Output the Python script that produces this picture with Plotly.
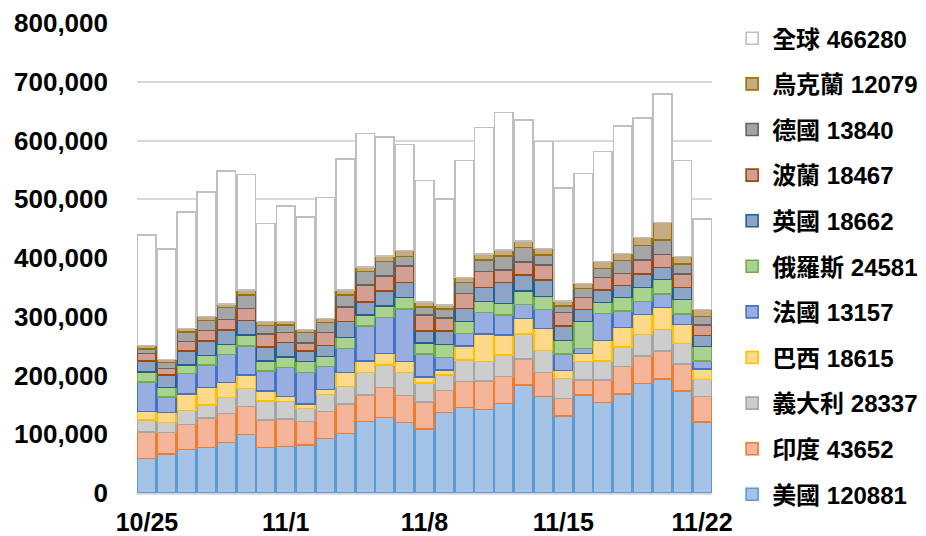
import plotly.graph_objects as go

# Daily dates (categories on the x axis)
dates = ["10/25", "10/26", "10/27", "10/28", "10/29", "10/30", "10/31",
         "11/1", "11/2", "11/3", "11/4", "11/5", "11/6", "11/7",
         "11/8", "11/9", "11/10", "11/11", "11/12", "11/13", "11/14",
         "11/15", "11/16", "11/17", "11/18", "11/19", "11/20", "11/21", "11/22"]
tick_dates = ["10/25", "11/1", "11/8", "11/15", "11/22"]

# Daily new cases per country
us = [58400, 66400, 74300, 77200, 86200, 99300, 77700, 78900, 81700, 92500,
      101600, 121400, 128800, 120300, 108900, 137300, 145800, 142400, 152600, 183800,
      164000, 131000, 166800, 153800, 168500, 186700, 194000, 173600, 120881]
india = [45000, 36900, 42600, 50000, 49400, 48200, 46500, 47100, 40300, 46000,
         49400, 45400, 50500, 45400, 46500, 36900, 43700, 48200, 45400, 44300,
         41400, 30100, 25500, 38500, 46500, 46500, 47700, 46000, 43652]
italy = [21000, 16500, 23300, 22700, 26700, 30600, 32300, 30000, 22100, 29500,
         30000, 38000, 38600, 39700, 32300, 26700, 36900, 33000, 36900, 42500,
         36900, 34100, 31300, 32400, 34000, 36800, 36900, 35200, 28337]
brazil = [14000, 17000, 28400, 29500, 25500, 22700, 17600, 8000, 7400, 8500,
          24400, 20400, 19800, 18200, 10200, 8500, 23800, 47000, 34000, 26700,
          38000, 13000, 14100, 34600, 32400, 34100, 37400, 32300, 18615]
france = [51000, 27000, 34600, 38600, 48200, 49900, 33500, 49900, 53300, 38600,
          40900, 59000, 61300, 89600, 38600, 21000, 21600, 36400, 34000, 23800,
          32300, 28400, 8600, 46500, 28400, 21600, 22700, 17600, 13157]
russia = [17000, 16000, 14800, 15900, 17000, 18200, 17000, 18100, 18700, 17000,
          18700, 18700, 19300, 19300, 19300, 22700, 19800, 18700, 19800, 23200,
          21600, 22700, 45300, 18700, 23200, 24300, 25000, 25000, 24581]
uk = [18700, 21000, 23800, 24400, 24400, 24400, 24400, 24400, 18700, 18700,
      26700, 22700, 25500, 25500, 19900, 22700, 22700, 24300, 35800, 26700,
      28400, 25000, 21000, 21000, 19900, 22800, 19900, 19800, 18662]
poland = [12500, 11300, 15900, 18100, 18100, 21000, 21600, 16500, 13600, 22100,
          24400, 28400, 25600, 28400, 27200, 21600, 25600, 26800, 21000, 22700,
          25500, 22700, 20400, 21000, 21000, 23800, 22700, 23300, 18467]
germany = [8000, 9700, 15900, 17000, 20400, 23200, 14200, 13000, 17600, 17000,
           21000, 22700, 24400, 15900, 14200, 15300, 18700, 19800, 23800, 24400,
           17000, 11300, 15400, 15900, 21600, 24400, 24400, 17000, 13840]
ukraine = [5700, 5700, 6200, 6800, 5700, 8000, 6800, 5700, 5100, 7400,
           8500, 8500, 9600, 10200, 8500, 7400, 7900, 10200, 10200, 11300,
           11400, 8500, 8500, 11400, 12500, 13600, 29500, 12500, 12079]
# Worldwide daily total
world = [439000, 415000, 478000, 512000, 548600, 541800, 459000, 489000, 470000, 503000,
         569000, 612000, 606000, 593500, 531600, 500000, 566000, 622000, 648000, 635000,
         598000, 519000, 544000, 581000, 625000, 638000, 679000, 566000, 466280]

# (name, values, fill, outline) from the bottom of the stack upward
series = [
    ("美國", us, "#A5C3E7", "#5B9BD5"),
    ("印度", india, "#F5B59A", "#ED7D31"),
    ("義大利", italy, "#CDCDCD", "#A5A5A5"),
    ("巴西", brazil, "#FFD98A", "#FFC000"),
    ("法國", france, "#98ADE0", "#4472C4"),
    ("俄羅斯", russia, "#A9D18F", "#70AD47"),
    ("英國", uk, "#8DA4C4", "#255E91"),
    ("波蘭", poland, "#D39F93", "#9E480E"),
    ("德國", germany, "#A5A5A5", "#636363"),
    ("烏克蘭", ukraine, "#C7AB83", "#997300"),
]

# Rest of the world = world total minus the listed countries
rest = [w - sum(s[1][i] for s in series) for i, w in enumerate(world)]

FONT = "Liberation Sans, Arial, Noto Sans CJK TC, sans-serif"
n_items = len(series) + 1

fig = go.Figure()
for k, (name, vals, fill, edge) in enumerate(series):
    fig.add_trace(go.Bar(
        x=dates, y=vals, name=f"{name} {vals[-1]}", legendgroup=name,
        legendrank=n_items - k,
        marker=dict(color=fill, line=dict(color=edge, width=1.6)),
    ))
fig.add_trace(go.Bar(
    x=dates, y=rest, name=f"全球 {world[-1]}", legendgroup="全球",
    legendrank=1,
    marker=dict(color="#FFFFFF", line=dict(color="#BFBFBF", width=1.6)),
))

fig.update_layout(
    width=926, height=536, autosize=False,
    barmode="stack", bargap=0.06,
    paper_bgcolor="white", plot_bgcolor="white",
    margin=dict(l=137, r=214, t=23, b=43, autoexpand=False),
    font=dict(family=FONT, size=25, color="#000000"),
    legend=dict(
        x=1.035, xanchor="left", y=1.0145, yanchor="top",
        traceorder="grouped", tracegroupgap=11.4, maxheight=560,
        font=dict(family=FONT, size=24, color="#000000", weight="bold"),
        itemwidth=30, bgcolor="rgba(0,0,0,0)",
    ),
    xaxis=dict(
        type="category", tickmode="array", tickvals=tick_dates, ticktext=tick_dates,
        showgrid=False, showline=True, linecolor="#D9D9D9", linewidth=1.5,
        ticks="", tickfont=dict(family=FONT, size=25, weight="bold"),
        ticklabelstandoff=6, automargin=False,
    ),
    yaxis=dict(
        range=[0, 800000], dtick=100000, tickformat=",",
        showgrid=True, gridcolor="#D9D9D9", gridwidth=1.5, zeroline=False,
        showline=False, ticks="",
        tickfont=dict(family=FONT, size=26, weight="bold"),
        ticklabelstandoff=28, automargin=False,
    ),
)

fig.write_html("out.html")
